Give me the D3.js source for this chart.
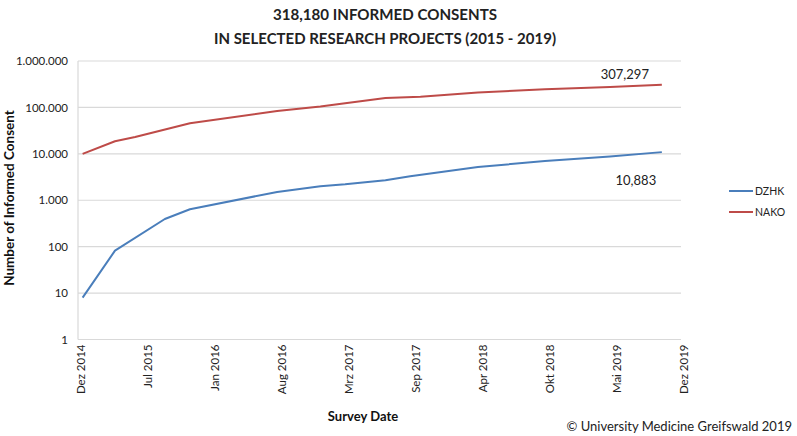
<!DOCTYPE html>
<html>
<head>
<meta charset="utf-8">
<script src="https://cdn.jsdelivr.net/npm/d3@7"></script>
<style>
  html, body { margin: 0; padding: 0; background: #fff; }
  svg { display: block; font-family: Lato, "Open Sans", sans-serif; }
</style>
</head>
<body>
<svg id="chart" width="797" height="436"></svg>
<script>
// ---- data ----
const titleLines = ["318,180 INFORMED CONSENTS", "IN SELECTED RESEARCH PROJECTS (2015 - 2019)"];
const seriesNames = ["DZHK", "NAKO"];
const dzhkDates = ["2014-12-15","2015-03-23","2015-08-21","2015-11-05","2016-07-26","2016-12-04","2017-02-17","2017-06-19","2017-09-02","2018-03-26","2018-10-15","2019-04-30","2019-10-04"];
const dzhkValues = [8, 82, 395, 640, 1510, 2000, 2200, 2700, 3300, 5200, 7000, 8800, 10883];
const nakoDates = ["2014-12-15","2015-03-23","2015-05-23","2015-11-05","2016-07-26","2016-12-04","2017-02-17","2017-06-19","2017-10-03","2018-03-26","2018-10-15","2019-04-30","2019-10-04"];
const nakoValues = [10000, 18700, 23000, 45700, 84000, 105000, 123000, 160000, 170000, 210000, 245000, 275000, 307297];
const xTickLabels = ["Dez 2014","Jul 2015","Jan 2016","Aug 2016","Mrz 2017","Sep 2017","Apr 2018","Okt 2018","Mai 2019","Dez 2019"];
const yTickValues = [1, 10, 100, 1000, 10000, 100000, 1000000];
const yTickLabels = ["1","10","100","1.000","10.000","100.000","1.000.000"];
const endLabels = ["10,883", "307,297"];
const colors = ["#4a7ebb", "#be4b48"];

// ---- layout ----
const svg = d3.select("#chart");
const mLeft = 78, mRight = 681, mTop = 61, mBottom = 339.5;
const parse = d3.timeParse("%Y-%m-%d");
const x0 = parse("2014-12-01"), x1 = parse("2019-12-01");
const x = d3.scaleTime().domain([x0, x1]).range([mLeft, mRight]);
const y = d3.scaleLog().domain([1, 1000000]).range([mBottom, mTop]);

// title
svg.append("g").selectAll("text").data(titleLines).join("text")
  .attr("x", 385).attr("y", (d, i) => 20 + i * 24)
  .attr("text-anchor", "middle")
  .attr("font-size", 16).attr("font-weight", "bold").attr("fill", "#222")
  .attr("textLength", (d, i) => i === 0 ? 224 : 342)
  .attr("lengthAdjust", "spacingAndGlyphs")
  .text(d => d);

// gridlines
svg.append("g").selectAll("line").data(yTickValues).join("line")
  .attr("x1", mLeft).attr("x2", mRight)
  .attr("y1", d => y(d)).attr("y2", d => y(d))
  .attr("stroke", "#d9d9d9").attr("stroke-width", 1.2);

// left axis line
svg.append("line").attr("x1", mLeft).attr("x2", mLeft).attr("y1", mTop).attr("y2", mBottom)
  .attr("stroke", "#d9d9d9").attr("stroke-width", 1.2);

// y axis labels
const yAxis = d3.axisLeft(y).tickValues(yTickValues)
  .tickFormat((d, i) => yTickLabels[i]).tickSize(0).tickPadding(10);
const yg = svg.append("g").attr("transform", `translate(${mLeft},0)`).call(yAxis);
yg.select(".domain").remove();
yg.selectAll("text").attr("font-size", 11.5).attr("fill", "#222").attr("font-family", "Lato, sans-serif");

// x axis labels
const tickDates = xTickLabels.map((d, i) => new Date(x0.getTime() + (x1 - x0) * i / (xTickLabels.length - 1)));
const xAxis = d3.axisBottom(x).tickValues(tickDates)
  .tickFormat((d, i) => xTickLabels[i]).tickSize(0);
const xg = svg.append("g").attr("transform", `translate(0,${mBottom})`).call(xAxis);
xg.select(".domain").remove();
xg.selectAll(".tick").attr("transform", d => `translate(${x(d) + 3},0)`);
xg.selectAll("text")
  .attr("font-size", 11.5).attr("fill", "#222").attr("font-family", "Lato, sans-serif")
  .attr("transform", "rotate(-90)")
  .attr("text-anchor", "end")
  .attr("x", -5).attr("y", 0).attr("dy", "0.35em");

// lines
const line = d3.line().x(d => x(d.date)).y(d => y(d.value));
const series = [
  dzhkDates.map((d, i) => ({ date: parse(d), value: dzhkValues[i] })),
  nakoDates.map((d, i) => ({ date: parse(d), value: nakoValues[i] }))
];
svg.append("g").selectAll("path").data(series).join("path")
  .attr("d", line).attr("fill", "none")
  .attr("stroke", (d, i) => colors[i]).attr("stroke-width", 2)
  .attr("stroke-linejoin", "round");

// end labels
const lastDz = series[0][series[0].length - 1];
const lastNa = series[1][series[1].length - 1];
svg.append("text").attr("x", x(lastDz.date) - 26).attr("y", y(lastDz.value) + 33)
  .attr("text-anchor", "middle").attr("font-size", 13).attr("fill", "#222").text(endLabels[0]);
svg.append("text").attr("x", x(lastNa.date) - 37).attr("y", y(lastNa.value) - 6)
  .attr("text-anchor", "middle").attr("font-size", 13).attr("fill", "#222").text(endLabels[1]);

// legend
const lg = svg.append("g").selectAll("g").data(seriesNames).join("g")
  .attr("transform", (d, i) => `translate(729,${191 + i * 21})`);
lg.append("line").attr("x1", 0).attr("x2", 24).attr("y1", 0).attr("y2", 0)
  .attr("stroke", (d, i) => colors[i]).attr("stroke-width", 2);
lg.append("text").attr("x", 26).attr("y", 0).attr("dy", "0.35em")
  .attr("font-size", 10.5).attr("fill", "#222").text(d => d);

// axis titles
svg.append("text")
  .attr("transform", "translate(14,198) rotate(-90)")
  .attr("text-anchor", "middle").attr("font-size", 13.5).attr("font-weight", "bold").attr("fill", "#111")
  .text("Number of Informed Consent");
svg.append("text").attr("x", 363).attr("y", 421)
  .attr("text-anchor", "middle").attr("font-size", 13).attr("font-weight", "bold").attr("fill", "#111")
  .text("Survey Date");

// copyright
svg.append("text").attr("x", 792).attr("y", 431)
  .attr("text-anchor", "end").attr("font-size", 13).attr("fill", "#222")
  .text("© University Medicine Greifswald 2019");
</script>
</body>
</html>
